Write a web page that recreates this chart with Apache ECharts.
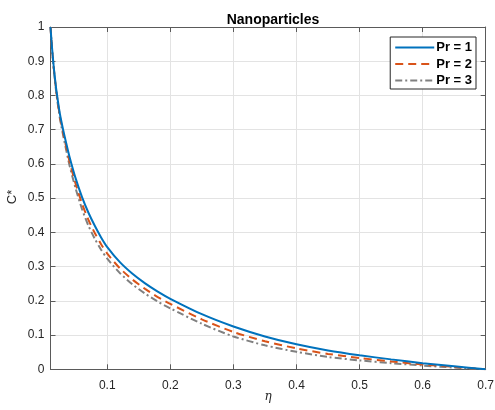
<!DOCTYPE html>
<html>
<head>
<meta charset="utf-8">
<script src="https://cdn.jsdelivr.net/npm/echarts@6/dist/echarts.min.js"></script>
<style>
  html, body { margin: 0; padding: 0; background: #fff; }
  #chart { width: 495px; height: 410px; }
</style>
</head>
<body>
<div id="chart"></div>
<script>
// Similarity variable η
var eta = [0.01, 0.0125, 0.015, 0.0175, 0.02, 0.025, 0.03, 0.035, 0.04, 0.05,
           0.06, 0.07, 0.08, 0.09, 0.1, 0.12, 0.14, 0.16, 0.18, 0.2,
           0.25, 0.3, 0.35, 0.4, 0.45, 0.5, 0.55, 0.6, 0.65, 0.7];

// Concentration profiles C* for each Prandtl number
var cPr1 = [1.0, 0.9375, 0.886, 0.843, 0.806, 0.745, 0.70, 0.66, 0.622, 0.557,
            0.503, 0.458, 0.42, 0.386, 0.357, 0.313, 0.279, 0.251, 0.227, 0.206,
            0.161, 0.125, 0.096, 0.073, 0.055, 0.041, 0.029, 0.018, 0.009, 0];
var cPr2 = [1.0, 0.936, 0.883, 0.839, 0.8, 0.738, 0.691, 0.649, 0.608, 0.541,
            0.484, 0.437, 0.399, 0.366, 0.338, 0.295, 0.262, 0.235, 0.211, 0.191,
            0.146, 0.109, 0.082, 0.061, 0.045, 0.033, 0.023, 0.014, 0.007, 0];
var cPr3 = [1.0, 0.9345, 0.88, 0.835, 0.796, 0.732, 0.684, 0.64, 0.597, 0.527,
            0.468, 0.42, 0.382, 0.35, 0.323, 0.281, 0.248, 0.221, 0.198, 0.178,
            0.133, 0.096, 0.07, 0.051, 0.036, 0.026, 0.018, 0.011, 0.005, 0];

var seriesNames = ['Pr = 1', 'Pr = 2', 'Pr = 3'];
var xTicks = [0.1, 0.2, 0.3, 0.4, 0.5, 0.6, 0.7];
var xName = 'η';
var yName = 'C*';

function pairs(ys) {
  return eta.map(function (x, i) { return [x, ys[i]]; });
}

var axisColor = '#5a5a5a';
var textColor = '#262626';
var gridColor = '#e3e3e3';
var font = 'Liberation Sans, Arial, sans-serif';

function tickText(v) { return String(Math.round(v * 10) / 10); }

var chart = echarts.init(document.getElementById('chart'), null, { renderer: 'canvas' });

function lineSeries(name, ys, color, dash, z) {
  return {
    name: name,
    type: 'line',
    data: pairs(ys),
    showSymbol: false,
    symbol: 'none',
    smooth: 0.25,
    z: z,
    lineStyle: { color: color, width: 2, type: dash },
    itemStyle: { color: color }
  };
}

var option = {
  animation: false,
  backgroundColor: '#ffffff',
  title: {
    text: 'Nanoparticles',
    left: 268,
    top: 8,
    textAlign: 'center',
    textStyle: { fontFamily: font, fontSize: 14, fontWeight: 'bold', color: '#000' }
  },
  // axis titles placed beside the plot box
  graphic: [{
    type: 'text',
    x: 268,
    y: 397,
    style: { text: xName, align: 'center', verticalAlign: 'middle',
             font: 'italic 12px "DejaVu Serif", serif', fill: textColor }
  }, {
    type: 'text',
    x: 12,
    y: 197,
    rotation: Math.PI / 2,
    style: { text: yName, align: 'center', verticalAlign: 'middle',
             font: '13px "Liberation Sans", Arial, sans-serif', fill: textColor }
  }],
  legend: {
    orient: 'vertical',
    right: 19,
    top: 37,
    data: seriesNames,
    itemWidth: 39,
    itemHeight: 12,
    itemGap: 3.5,
    padding: [4, 4, 2, 4],
    borderColor: '#262626',
    borderWidth: 1,
    backgroundColor: '#fff',
    itemStyle: { opacity: 0 },
    textStyle: { fontFamily: font, fontSize: 13, fontWeight: 'bold', color: '#000', padding: [0, 0, 0, -3] }
  },
  grid: { left: 50.5, right: 9.3, top: 27, bottom: 40.7, containLabel: false, outerBoundsMode: 'none' },
  xAxis: [{
    type: 'value',
    min: 0.01,
    max: 0.7,
    axisLine: { show: true, onZero: false, lineStyle: { color: axisColor, width: 1 } },
    axisTick: { show: true, inside: true, length: 5, customValues: xTicks, lineStyle: { color: axisColor } },
    axisLabel: { customValues: xTicks, fontFamily: font, fontSize: 12, color: textColor, margin: 10, formatter: tickText },
    splitLine: { show: true, customValues: xTicks, lineStyle: { color: gridColor, width: 1 } }
  }, {
    type: 'value',
    position: 'top',
    min: 0.01,
    max: 0.7,
    axisLine: { show: true, onZero: false, lineStyle: { color: axisColor, width: 1 } },
    axisTick: { show: true, inside: true, length: 5, customValues: xTicks, lineStyle: { color: axisColor } },
    axisLabel: { show: false },
    splitLine: { show: false }
  }],
  yAxis: [{
    type: 'value',
    min: 0,
    max: 1,
    interval: 0.1,
    axisLine: { show: true, onZero: false, lineStyle: { color: axisColor, width: 1 } },
    axisTick: { show: true, inside: true, length: 5, lineStyle: { color: axisColor } },
    axisLabel: { fontFamily: font, fontSize: 12, color: textColor, margin: 6, formatter: tickText },
    splitLine: { show: true, lineStyle: { color: gridColor, width: 1 } }
  }, {
    type: 'value',
    position: 'right',
    min: 0,
    max: 1,
    interval: 0.1,
    axisLine: { show: true, onZero: false, lineStyle: { color: axisColor, width: 1 } },
    axisTick: { show: true, inside: true, length: 5, lineStyle: { color: axisColor } },
    axisLabel: { show: false },
    splitLine: { show: false }
  }],
  series: [
    lineSeries(seriesNames[0], cPr1, '#0072BD', 'solid', 3),
    lineSeries(seriesNames[1], cPr2, '#D95319', [8, 5], 2),
    lineSeries(seriesNames[2], cPr3, '#808080', [7, 3, 2, 3], 1)
  ]
};

chart.setOption(option);
</script>
</body>
</html>
